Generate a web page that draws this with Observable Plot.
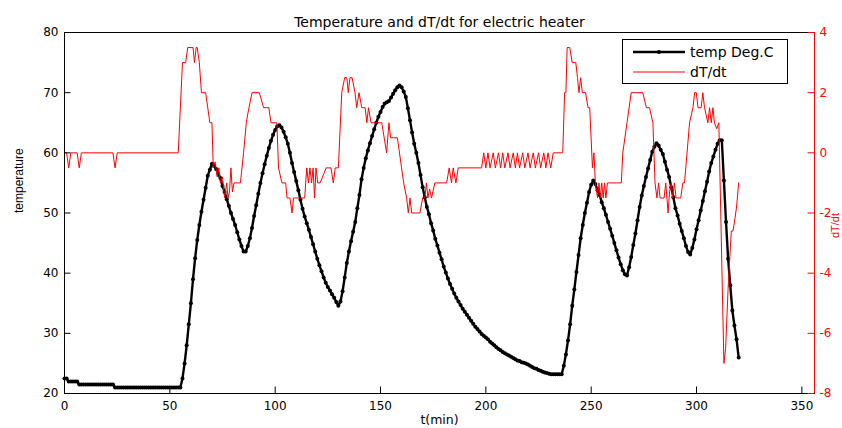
<!DOCTYPE html>
<html><head><meta charset="utf-8">
<script src="https://cdn.jsdelivr.net/npm/d3@7"></script>
<script src="https://cdn.jsdelivr.net/npm/@observablehq/plot@0.6"></script>
<style>
body{margin:0;background:#fff;}
#wrap{position:relative;width:842px;height:428px;overflow:hidden;}
#wrap > svg{position:absolute;left:0;top:0;}
</style></head><body><div id="wrap"></div>
<script>
// ---------- data ----------
const title = "Temperature and dT/dt for electric heater";
const xLabel = "t(min)";
const yLabelLeft = "temperature";
const yLabelRight = "dT/dt";
const seriesNames = ["temp Deg.C", "dT/dt"];
const xTicks = [0, 50, 100, 150, 200, 250, 300, 350];
const tempTicks = [20, 30, 40, 50, 60, 70, 80];
const rateTicks = [-8, -6, -4, -2, 0, 2, 4];
const tempDomain = [20, 80];
const rateDomain = [-8, 4];
const xDomain = [0, 356];

// temperature, one sample per minute starting at t = 0
const temperature = [
  22.5,22.5,22,22,22,22,22,21.5,21.5,21.5,
  21.5,21.5,21.5,21.5,21.5,21.5,21.5,21.5,21.5,21.5,
  21.5,21.5,21.5,21.5,21,21,21,21,21,21,
  21,21,21,21,21,21,21,21,21,21,
  21,21,21,21,21,21,21,21,21,21,
  21,21,21,21,21,21,22.5,25,28,31.5,
  35,39,42.5,45.5,48,50.2,52.2,54.2,56.2,57.2,
  58.2,57.8,57.3,56.5,55.8,54.5,53.5,52.3,51.2,50,
  49,48,46.8,45.6,44.5,43.6,43.6,44.5,45.8,47.5,
  49.5,51.3,53.2,55,56.6,58.1,59.5,60.8,62,63,
  63.8,64.4,64.6,64.2,63.5,62.6,61.5,60,58.3,56.8,
  55.3,53.8,52.2,50.7,49.4,48.3,47.2,46,44.8,43.6,
  42.4,41.3,40.3,39.3,38.4,37.7,37.1,36.5,35.9,35.2,
  34.6,35.3,37,39.3,41.7,43.6,45.3,46.9,48.5,50.8,
  53,55.6,57.5,59.1,60.4,61.6,62.8,63.9,65,66,
  66.8,67.6,68.2,68.4,68.6,69.2,69.8,70.4,70.9,71.2,
  70.9,70.2,69.3,67.4,65.4,63.4,61.5,60,58.3,56.3,
  54.3,52.6,51,49.8,48.3,47.1,45.7,44.6,43.4,42.3,
  41.1,40.1,39.1,38.2,37.4,36.6,35.9,35.3,34.7,34.1,
  33.6,33.1,32.6,32.1,31.6,31.1,30.7,30.3,29.9,29.6,
  29.3,29,28.6,28.3,28,27.7,27.4,27.2,26.9,26.7,
  26.5,26.3,26.1,25.9,25.7,25.5,25.4,25.2,25.1,25,
  24.8,24.6,24.4,24.2,24.1,23.9,23.8,23.6,23.5,23.4,
  23.3,23.2,23.2,23.2,23.2,23.2,23.2,24.6,26.5,28.8,
  31.5,34.6,37.3,40.2,43,45.8,48,50,51.7,53.5,
  54.7,55.4,54.8,53.8,53,51.8,50.8,49.7,48.5,47.4,
  46.2,45,43.8,42.6,41.5,40.5,39.8,39.6,41,42.7,
  44.7,46.6,48.8,51,52.9,54.5,56,57.4,58.8,60.2,
  61,61.6,61.2,60.5,59.8,58.5,57.2,56,54.3,52.6,
  50.8,49.6,48.2,47,45.8,44.5,43.5,43.1,44.2,45.6,
  47.3,48.8,50.4,52,53.6,55.2,56.9,58.3,59.4,60.5,
  61.5,62.1,62.1,55.4,48.5,42.4,38,33.8,31.3,29,26
];

// dT/dt as [t (min), value]
const dTdt = [
  [0,0],[1,0],[2,-0.5],[3,0],[6,0],[7,-0.5],[8,0],[23,0],[24,-0.5],[25,0],[54,0],
  [56,3],[57.5,3],[58.5,3.5],[61,3.5],[61.7,3],[62.5,3.5],[63,3.5],[64,3],[65,2],[67,2],[69,1],[70,1],
  [70.6,-0.5],[71.5,-0.3],[72.5,-0.8],[73.3,-0.5],[74,-1],[75,-0.8],[76,-1.5],[77,-1],[77.6,-1.5],[78.3,-1.3],
  [79,-0.5],[79.7,-1.3],[80.5,-1],[83.5,-1],[85,0],[86.3,1],[87,1.3],[89,2],[92.5,2],[94.5,1.5],[97,1.5],
  [98,1],[100.8,1],[101.6,-0.5],[103.2,-1],[105,-1],[105.6,-1.5],[107,-1.5],[108,-2],[108.7,-1.5],[114,-1.5],
  [115,-0.5],[115.8,-1],[116.5,-0.5],[117.3,-1],[118,-0.5],[118.7,-1.5],[119.4,-0.5],[120.2,-1],[121.3,-1],
  [124.2,-0.5],[126.5,-0.5],[127.6,-1],[128.5,-0.5],[130,-0.5],[131.6,2],[133,2.5],[134,2.5],[134.7,2],
  [135.5,2.5],[136.5,2.5],[137.9,2],[138.7,1.5],[139.8,2],[141.1,1.5],[142.7,1.5],[143.5,1],[144.3,1.5],
  [145.5,1],[150.6,1],[152.9,0],[154,1],[154.8,0.5],[158,0.5],[160,-0.5],[161,-1],[162.4,-1.5],[163.2,-2],
  [164,-1.5],[164.8,-2],[168.7,-2],[170,-1.5],[171,-1.5],[171.8,-1],[172.5,-1.5],[173.3,-1.2],[174.2,-1.5],
  [175.8,-1],[181.4,-1],[182.6,-0.5],[183.7,-1],[184.5,-0.5],[185.8,-1],[186.9,-0.5],[198,-0.5],
  [199,0],[200,-0.5],[201,0],[202,-0.5],[203.5,0],[204.5,-0.5],[206,0],[207,-0.5],[208,0],[209,-0.5],
  [210.5,0],[211.5,-0.5],[213,0],[214,-0.5],[215,0],[216,-0.5],[217.5,0],[218.5,-0.5],[220,0],[221,-0.5],
  [222.5,0],[223.5,-0.5],[225,0],[226,-0.5],[227.5,0],[228.5,-0.5],[229.5,0],[230.8,-0.5],[232,0],[236.5,0],
  [237.4,2],[238,2],[238.6,3.5],[239.8,3.5],[241,3],[242.7,3],[243.5,2.5],[244.2,2],[245,2.5],[245.8,2],
  [247.3,2],[248.5,1.5],[249.3,1.5],[250.6,-0.5],[251.3,0],[252,-1],[253,-1.5],[253.7,-1],[254.3,-1.5],
  [255,-1],[255.7,-1.5],[256.3,-1],[257,-1.5],[257.7,-1],[264.3,-1],[265,0],[267,1],[269,2],[274.5,2],
  [276.2,1.5],[277.7,1.5],[279.3,1],[280.3,-1],[281.2,-1.5],[282,-1],[282.7,-1.5],[284.6,-1.5],[285.4,-1],
  [286.5,-2],[287.2,-1.3],[288,-1],[288.7,-1.5],[289.5,-1],[290.3,-1.5],[292.5,-1.5],[293.5,-1],[294.3,-1],
  [296.7,1],[298.3,1.5],[299.1,2],[299.9,2],[300.7,1.5],[302.2,1.5],[303,2],[303.8,1.5],[305.4,1],[306.2,1.5],
  [307,1],[307.8,1.5],[308.5,1],[309.6,0.8],[310.6,1],[313,-7],[313.8,-6.5],[315,-4.5],[316.5,-2.6],
  [317.3,-2.6],[318,-2.3],[319,-1.8],[320,-1]
];

// ---------- drawing ----------
const W = 842, H = 428;
const mL = 64, mR = 28, mT = 32, mB = 35;
const plotW = W - mL - mR, plotH = H - mT - mB;
const tick = 6.5;
const black = "#000000", red = "#ff0000";
// map dT/dt onto the temperature scale (right axis)
const rateToTemp = v => tempDomain[0] + (v - rateDomain[0]) * (tempDomain[1] - tempDomain[0]) / (rateDomain[1] - rateDomain[0]);
const tempToRate = y => rateDomain[0] + (y - tempDomain[0]) * (rateDomain[1] - rateDomain[0]) / (tempDomain[1] - tempDomain[0]);

const tempData = temperature.map((T, i) => ({t: i, T}));
const rateData = dTdt.map(([t, v]) => ({t, y: rateToTemp(v)}));

const chart = Plot.plot({
  width: W, height: H,
  marginLeft: mL, marginRight: mR, marginTop: mT, marginBottom: mB,
  style: {fontFamily: "DejaVu Sans", fontSize: "12px", background: "white", color: black, overflow: "visible"},
  x: {domain: xDomain},
  y: {domain: tempDomain},
  marks: [
    Plot.lineY(tempData, {x: "t", y: "T", stroke: black, strokeWidth: 2.4}),
    Plot.dot(tempData, {x: "t", y: "T", r: 2, fill: black, stroke: null}),
    Plot.lineY(rateData, {x: "t", y: "y", stroke: red, strokeWidth: 1}),
    Plot.frame({stroke: black}),
    Plot.ruleX([xDomain[1]], {stroke: red}),
    Plot.tickX(xTicks, {x: d => d, insetTop: plotH - tick, stroke: black}),
    Plot.tickY(tempTicks, {y: d => d, insetRight: plotW - tick, stroke: black}),
    Plot.tickY(rateTicks, {y: d => rateToTemp(d), insetLeft: plotW - tick, stroke: red}),
    Plot.axisX(xTicks, {tickSize: 0, tickPadding: 8, label: null, fill: black, fontSize: 12}),
    Plot.axisY(tempTicks, {anchor: "left", tickSize: 0, tickPadding: 6, label: null, fill: black, fontSize: 12}),
    Plot.axisY(rateTicks.map(rateToTemp), {anchor: "right", tickSize: 0, tickPadding: 5, label: null, fill: red, fontSize: 12,
      tickFormat: d => String(Math.round(tempToRate(d)))}),
    Plot.text([title], {text: d => d, frameAnchor: "top", dy: -15, fontSize: 14, fill: black}),
    Plot.text([xLabel], {text: d => d, frameAnchor: "bottom", dy: 30, fontSize: 12.5, fill: black}),
    Plot.text([yLabelLeft], {text: d => d, frameAnchor: "left", dx: -45, rotate: -90, fontFamily: "Liberation Sans", fontSize: 12, fill: black}),
    Plot.text([yLabelRight], {text: d => d, frameAnchor: "right", dx: 21, rotate: -90, fontFamily: "Liberation Sans", fontSize: 11, fill: red})
  ]
});
document.getElementById("wrap").appendChild(chart);

// legend (inside the plot, top right)
const ns = "http://www.w3.org/2000/svg";
const leg = document.createElementNS(ns, "svg");
leg.setAttribute("width", 166); leg.setAttribute("height", 45);
leg.style.position = "absolute"; leg.style.left = "622px"; leg.style.top = "39px";
const legStyles = [{stroke: black, width: 2.4, marker: true}, {stroke: red, width: 1, marker: false}];
let html = `<rect x="0.5" y="0.5" width="165" height="44" fill="#fff" stroke="${black}"/>`;
seriesNames.forEach((name, i) => {
  const cy = 13 + i * 20, s = legStyles[i];
  html += `<line x1="11" x2="63" y1="${cy}" y2="${cy}" stroke="${s.stroke}" stroke-width="${s.width}"/>`;
  if (s.marker) html += `<circle cx="37" cy="${cy}" r="2" fill="${s.stroke}"/>`;
  html += `<text x="68" y="${cy}" dy="0.35em" font-family="DejaVu Sans" font-size="14" fill="${black}">${name}</text>`;
});
leg.innerHTML = html;
document.getElementById("wrap").appendChild(leg);
</script></body></html>
